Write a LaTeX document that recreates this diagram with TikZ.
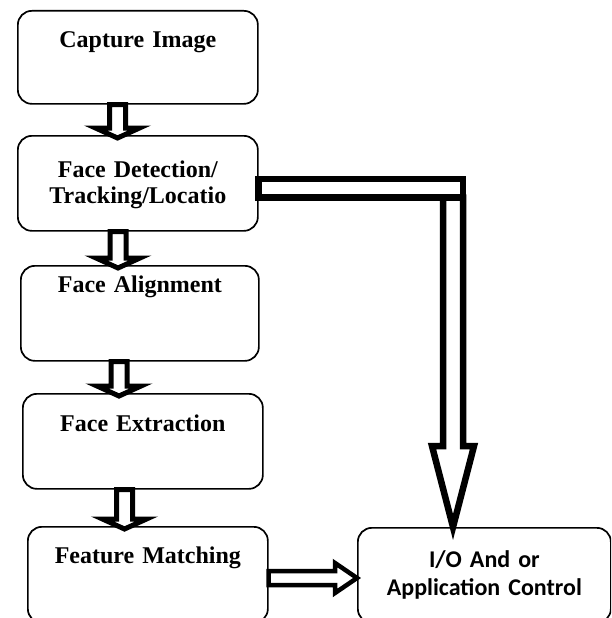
\documentclass[tikz,border=0pt]{standalone}
\usepackage{fontspec}
\setmainfont{Liberation Serif}
\newfontfamily\iofont{Carlito}
\usetikzlibrary{calc}

% hollow block arrow going down: x of the shaft, upper box, lower box
\newcommand{\dnarrow}[3]{%
  \draw[blk] ($(#1,0 |- #3.north)+(0,3)$) -- ++(22,-10) -- ++(-14,0)
    |- ($(#1,0 |- #2.south)+(8,0)$) -- ++(-16,0)
    |- ($(#1,0 |- #3.north)+(-22,-7)$) -- cycle;}

\begin{document}
\begin{tikzpicture}[x=1pt, y=-1pt,
  box/.style={draw, line width=1.7pt, rounded corners=14pt, inner sep=0pt,
              text width=240pt, align=center, anchor=north west,
              font=\bfseries\fontsize{24}{26}\selectfont},
  blk/.style={draw, fill=white, line width=5pt, miter limit=20}]
  \path[use as bounding box, clip] (0,0) rectangle (611,618);

  \node[box, text height=37pt, text depth=56pt] (cap) at (17,10) {Capture Image};
  \node[box, text height=42pt, text depth=53pt] (det) at (17,135) {Face Detection/\\Tracking/Locatio};
  \node[box, text width=238pt, text height=27pt, text depth=68pt] (ali) at (20,265) {Face Alignment};
  \node[box, text height=38pt, text depth=57pt] (ext) at (22,393) {Face Extraction};
  \node[box, text height=37pt, text depth=59pt] (fm) at (27,526) {Feature Matching};
  \node[box, text width=253pt, minimum height=95pt,
        font=\iofont\bfseries\fontsize{24}{28}\selectfont] (io) at (357,527)
        {I/O And or\\Application Control};

  \dnarrow{117.5}{cap}{det}
  \dnarrow{118}{det}{ali}
  \dnarrow{119}{ali}{ext}
  \dnarrow{124.5}{ext}{fm}

  \draw[blk, line width=4.5pt] (io.west |- 0,578) -- ++(-22,-15) -- ++(0,8)
    -- ($(fm.east |- 0,578)+(0,-7)$) -- ++(0,14)
    -- ($(io.west |- 0,578)+(-22,7)$) -- ++(0,8) -- cycle;

  % detection result goes straight to the control box
  \coordinate (turn) at (453,188);
  \draw[blk, line width=6.5pt] (turn |- io.north) -- ++(21,-81) -- ++(-11,0)
    |- ($(turn)+(10,9.5)$) -- ++(-20,0)
    |- ($(turn |- io.north)+(-21,-81)$) -- cycle;
  \draw[blk, line width=6.5pt] ($(det.east |- turn)+(0,-9)$) rectangle ($(turn)+(10,9.5)$);
\end{tikzpicture}
\end{document}
